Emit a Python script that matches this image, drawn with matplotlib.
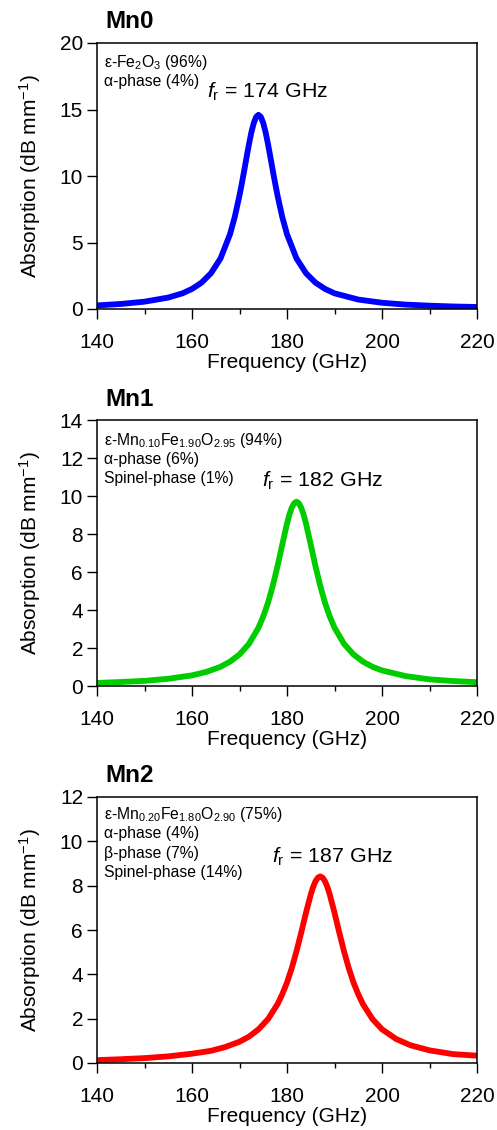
import matplotlib
matplotlib.use("Agg")
import matplotlib.pyplot as plt
from matplotlib.ticker import MultipleLocator

plt.rcParams["font.family"] = ["Liberation Sans", "DejaVu Sans"]
plt.rcParams["mathtext.fontset"] = "custom"
plt.rcParams["mathtext.rm"] = "Liberation Sans"
plt.rcParams["mathtext.it"] = "Liberation Sans:italic"
plt.rcParams["mathtext.bf"] = "Liberation Sans:bold"

# ── Data ─────────────────────────────────────────────────────────────────────
freq_mn0 = [140, 145, 150, 155, 158, 160, 162, 164, 166, 168, 169, 170, 170.5,
            171, 171.5, 172, 172.5, 173, 173.5, 174, 174.5, 175, 175.5, 176,
            176.5, 177, 177.5, 178, 179, 180, 182, 184, 186, 188, 190, 195,
            200, 205, 210, 215, 220]
abs_mn0 = [0.27, 0.38, 0.55, 0.86, 1.18, 1.51, 1.98, 2.69, 3.80, 5.62, 6.92,
           8.54, 9.46, 10.43, 11.43, 12.40, 13.28, 13.98, 14.44, 14.6, 14.44,
           13.98, 13.28, 12.40, 11.43, 10.43, 9.46, 8.54, 6.92, 5.62, 3.80,
           2.69, 1.98, 1.51, 1.18, 0.71, 0.47, 0.33, 0.25, 0.19, 0.15]

freq_mn1 = [140, 145, 150, 155, 160, 163, 166, 168, 170, 172, 174, 175, 176,
            177, 178, 179, 180, 180.5, 181, 181.5, 182, 182.5, 183, 183.5, 184,
            185, 186, 187, 188, 189, 190, 192, 194, 196, 198, 200, 205, 210,
            215, 220]
abs_mn1 = [0.16, 0.21, 0.27, 0.38, 0.56, 0.74, 1.01, 1.28, 1.66, 2.22, 3.07,
           3.66, 4.38, 5.27, 6.30, 7.44, 8.55, 9.02, 9.38, 9.62, 9.70, 9.62,
           9.38, 9.02, 8.55, 7.44, 6.30, 5.27, 4.38, 3.66, 3.07, 2.22, 1.66,
           1.28, 1.01, 0.82, 0.52, 0.35, 0.26, 0.20]

freq_mn2 = [140, 145, 150, 155, 160, 164, 167, 170, 172, 174, 176, 178, 179,
            180, 181, 182, 183, 184, 185, 185.5, 186, 186.5, 187, 187.5, 188,
            188.5, 189, 190, 191, 192, 193, 194, 195, 196, 198, 200, 203, 206,
            210, 215, 220]
abs_mn2 = [0.13, 0.17, 0.22, 0.30, 0.42, 0.55, 0.72, 0.96, 1.19, 1.52, 1.98,
           2.65, 3.10, 3.63, 4.28, 5.04, 5.89, 6.78, 7.60, 7.94, 8.20, 8.36,
           8.42, 8.36, 8.20, 7.94, 7.60, 6.78, 5.89, 5.04, 4.28, 3.63, 3.10,
           2.65, 1.98, 1.52, 1.08, 0.80, 0.57, 0.40, 0.33]

titles = ["Mn0", "Mn1", "Mn2"]
ymax = [20, 14, 12]
ystep = [5, 2, 2]
colors = ["#0000FF", "#00CC00", "#FF0000"]
phase_lines = [
    [r"ε-Fe$_\mathregular{2}$O$_\mathregular{3}$ (96%)", "α-phase (4%)"],
    [r"ε-Mn$_\mathregular{0.10}$Fe$_\mathregular{1.90}$O$_\mathregular{2.95}$ (94%)",
     "α-phase (6%)", "Spinel-phase (1%)"],
    [r"ε-Mn$_\mathregular{0.20}$Fe$_\mathregular{1.80}$O$_\mathregular{2.90}$ (75%)",
     "α-phase (4%)", "β-phase (7%)", "Spinel-phase (14%)"],
]
fr_labels = [r"$f_\mathregular{r}$ = 174 GHz", r"$f_\mathregular{r}$ = 182 GHz",
             r"$f_\mathregular{r}$ = 187 GHz"]

# ── Layout (figure fractions) ────────────────────────────────────────────────
W, H = 497, 1130
axes_px = [(43, 309), (420, 686), (797, 1063)]     # top, bottom
title_y = [21, 400, 775]
phase_y = [[0.925, 0.857], [0.922, 0.850, 0.779], [0.933, 0.862, 0.786, 0.715]]
fr_pos = [(0.29, 0.816), (0.434, 0.771), (0.46, 0.774)]

fig = plt.figure(figsize=(W / 100, H / 100), dpi=100)
series = [(freq_mn0, abs_mn0), (freq_mn1, abs_mn1), (freq_mn2, abs_mn2)]

for i, (fx, ay) in enumerate(series):
    top, bot = axes_px[i]
    ax = fig.add_axes([97 / W, 1 - bot / H, 380 / W, (bot - top) / H])
    ax.plot(fx, ay, color=colors[i], linewidth=4.2, solid_joinstyle="round")
    ax.set_xlim(140, 220)
    ax.set_ylim(0, ymax[i])
    ax.xaxis.set_major_locator(MultipleLocator(20))
    ax.xaxis.set_minor_locator(MultipleLocator(10))
    ax.yaxis.set_major_locator(MultipleLocator(ystep[i]))
    ax.tick_params(axis="both", which="major", direction="out", length=7,
                   width=1, labelsize=15)
    ax.tick_params(axis="x", which="major", pad=10)
    ax.tick_params(axis="y", which="major", pad=3)
    ax.tick_params(axis="x", which="minor", direction="out", length=3.5, width=1)
    for s in ax.spines.values():
        s.set_linewidth(1.1)
    ax.set_xlabel("Frequency (GHz)", fontsize=15, labelpad=1)
    ax.set_ylabel(r"Absorption (dB mm$^{\mathregular{-1}}$)", fontsize=15, labelpad=12)

    for line, yy in zip(phase_lines[i], phase_y[i]):
        ax.text(0.018, yy, line, transform=ax.transAxes, fontsize=11.3,
                va="center", ha="left")
    ax.text(fr_pos[i][0], fr_pos[i][1], fr_labels[i], transform=ax.transAxes,
            fontsize=15.4, va="center", ha="left")

    fig.text(105 / W, 1 - title_y[i] / H, titles[i], fontsize=17.5,
             fontweight="bold", va="center", ha="left")

fig.savefig("out.png", dpi=100)
